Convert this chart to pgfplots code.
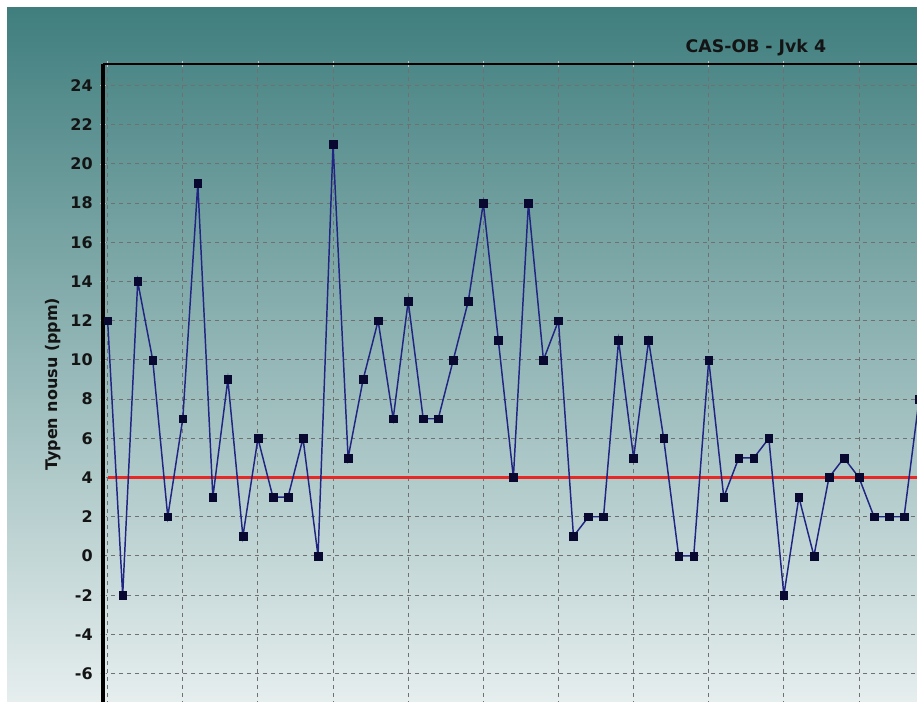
\documentclass[border=0pt]{standalone}
\usepackage{fontspec}
\setmainfont{DejaVu Sans}
\usepackage{pgfplots}
\pgfplotsset{compat=1.18}
\definecolor{bgtop}{RGB}{64,126,126}
\definecolor{bgmid}{RGB}{124,170,170}
\definecolor{bgbot}{RGB}{230,238,238}
\definecolor{gridc}{RGB}{112,112,112}
\definecolor{serc}{RGB}{32,36,130}
\definecolor{markc}{RGB}{8,8,48}
\definecolor{limc}{RGB}{232,40,36}
\definecolor{txtc}{RGB}{20,20,20}
\begin{document}
\begin{tikzpicture}
\path[use as bounding box] (0,0) rectangle (687.75pt,526.5pt);
\clip (0,0) rectangle (687.75pt,526.5pt);
\fill[white] (0,0) rectangle (687.75pt,526.5pt);
\shade[top color=bgtop, middle color=bgmid, bottom color=bgbot] (5.25pt,0) rectangle (687.75pt,520.9pt);
\begin{axis}[
  at={(77.25pt,478.5pt)}, anchor=north west,
  x=11.27pt, y=14.7pt,
  xmin=-0.31, xmax=56, ymin=-8, ymax=25.1,
  separate axis lines,
  axis x line*=top, axis y line*=left,
  x axis line style={black, line width=1.5pt},
  y axis line style={black, line width=2.3pt},
  xtick={0,5,...,55}, xticklabels={},
  ytick={-6,-4,...,24},
  minor y tick num=1,
  xtick pos=right, ytick pos=left,
  tick style={gray!45, line width=0.6pt},
  major tick length=4pt, minor tick length=2.5pt,
  tick align=center,
  grid=major,
  major grid style={gridc, dash pattern=on 3pt off 3pt, line width=0.75pt},
  /pgf/number format/assume math mode=true,
  yticklabel style={anchor=east, inner sep=0pt, xshift=-5.5pt, font=\bfseries\fontsize{12}{14}\selectfont, text=txtc},
  ylabel={Typen nousu (ppm)},
  every axis y label/.style={at={(axis description cs:-0.059,0.5063)}, rotate=90, anchor=center, font=\bfseries\fontsize{12}{14}\selectfont, text=txtc},
  title={CAS-OB - Jvk 4},
  every axis title/.style={at={(axis description cs:0.7716,1)}, anchor=center, yshift=12pt, font=\bfseries\fontsize{13}{15}\selectfont, text=txtc},
]
\addplot[limc, line width=2.3pt] coordinates {(0,4) (56,4)};
\addplot[serc, line width=1.1pt, mark=square*, mark size=2.9pt,
  mark options={fill=markc, draw=markc, solid, line width=0.4pt}] coordinates {
(0,12) (1,-2) (2,14) (3,10) (4,2) (5,7) (6,19) (7,3) (8,9) (9,1)
(10,6) (11,3) (12,3) (13,6) (14,0) (15,21) (16,5) (17,9) (18,12) (19,7)
(20,13) (21,7) (22,7) (23,10) (24,13) (25,18) (26,11) (27,4) (28,18) (29,10)
(30,12) (31,1) (32,2) (33,2) (34,11) (35,5) (36,11) (37,6) (38,0) (39,0)
(40,10) (41,3) (42,5) (43,5) (44,6) (45,-2) (46,3) (47,0) (48,4) (49,5)
(50,4) (51,2) (52,2) (53,2) (54,8)
};
\end{axis}
\end{tikzpicture}
\end{document}
